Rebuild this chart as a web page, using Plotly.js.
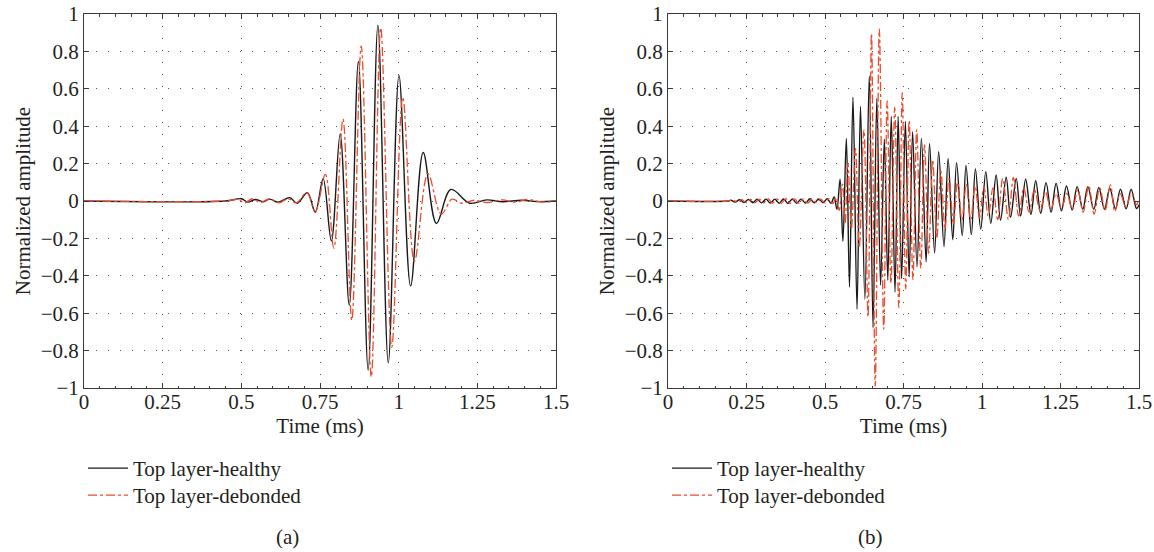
<!DOCTYPE html>
<html>
<head>
<meta charset="utf-8">
<script src="https://cdn.plot.ly/plotly-3.0.1.min.js"></script>
<style>html,body{margin:0;padding:0;background:#fff}#chart{width:1154px;height:552px}</style>
</head>
<body>
<div id="chart"></div>
<script>
// ---- Tick labels ----
const xTickVals = [0, 0.25, 0.5, 0.75, 1, 1.25, 1.5];
const xTickText = ['0', '0.25', '0.5', '0.75', '1', '1.25', '1.5'];
const yTickVals = [1, 0.8, 0.6, 0.4, 0.2, 0, -0.2, -0.4, -0.6, -0.8, -1];
const yTickText = ['1', '0.8', '0.6', '0.4', '0.2', '0', '\u22120.2', '\u22120.4', '\u22120.6', '\u22120.8', '\u22121'];

const seriesNames = ['Top layer-healthy', 'Top layer-debonded'];
const panelLabels = ['(a)', '(b)'];
const xTitle = 'Time (ms)';
const yTitle = 'Normalized amplitude';

// ---- Panel (a): peaks/troughs ----
const aHealthyTime = [0, 0.45, 0.5, 0.52, 0.545, 0.57, 0.59, 0.615, 0.635, 0.654, 0.678, 0.71, 0.735, 0.76, 0.786, 0.814, 0.843, 0.872, 0.903, 0.934, 0.967, 1.001, 1.038, 1.078, 1.12, 1.166, 1.226, 1.28, 1.33, 1.39, 1.44, 1.5];
const aHealthyAmp  = [0, 0, 0.012, -0.006, 0.008, -0.004, 0.01, -0.006, 0.006, 0.018, -0.012, 0.045, -0.06, 0.119, -0.214, 0.358, -0.557, 0.746, -0.904, 0.94, -0.865, 0.672, -0.454, 0.259, -0.12, 0.062, -0.012, 0.006, -0.004, 0.004, -0.003, 0];

const aDebondedTime = [0, 0.45, 0.49, 0.51, 0.535, 0.56, 0.59, 0.62, 0.648, 0.675, 0.708, 0.735, 0.767, 0.794, 0.823, 0.851, 0.881, 0.913, 0.943, 0.978, 1.013, 1.05, 1.093, 1.135, 1.17, 1.2, 1.24, 1.28, 1.33, 1.37, 1.41, 1.45, 1.5];
const aDebondedAmp  = [0, 0, 0.008, -0.01, 0.012, -0.008, 0.012, -0.01, 0.012, -0.01, 0.045, -0.055, 0.142, -0.252, 0.438, -0.638, 0.83, -0.94, 0.926, -0.782, 0.555, -0.323, 0.146, -0.07, 0.01, -0.012, 0.004, -0.008, 0.006, -0.006, 0.008, -0.005, 0];

// ---- Panel (b) ----
const bHealthyTime = [0, 0.19, 0.2, 0.214, 0.228, 0.242, 0.256, 0.27, 0.284, 0.298, 0.312, 0.326, 0.34, 0.354, 0.368, 0.382, 0.396, 0.41, 0.424, 0.438, 0.452, 0.466, 0.48, 0.494, 0.507, 0.519, 0.529, 0.538, 0.548, 0.557, 0.568, 0.578, 0.589, 0.602, 0.613, 0.627, 0.641, 0.653, 0.665, 0.677, 0.689, 0.7, 0.711, 0.723, 0.733, 0.744, 0.756, 0.768, 0.779, 0.793, 0.807, 0.822, 0.833, 0.849, 0.862, 0.879, 0.892, 0.907, 0.919, 0.937, 0.949, 0.966, 0.979, 0.996, 1.012, 1.028, 1.045, 1.059, 1.077, 1.091, 1.109, 1.123, 1.139, 1.156, 1.171, 1.187, 1.204, 1.22, 1.236, 1.253, 1.269, 1.287, 1.303, 1.321, 1.337, 1.356, 1.372, 1.39, 1.407, 1.425, 1.441, 1.459, 1.475, 1.492, 1.5];
const bHealthyAmp  = [0, 0, 0.004, -0.006, 0.007, -0.008, 0.008, -0.009, 0.009, -0.01, 0.01, -0.011, 0.01, -0.012, 0.011, -0.013, 0.011, -0.012, 0.01, -0.011, 0.012, -0.01, 0.011, -0.009, 0.012, -0.012, 0.022, -0.044, 0.116, -0.216, 0.335, -0.46, 0.555, -0.578, 0.506, -0.526, 0.669, -0.677, 0.548, -0.45, 0.33, -0.423, 0.452, -0.487, 0.452, -0.415, 0.425, -0.406, 0.371, -0.352, 0.335, -0.325, 0.308, -0.279, 0.263, -0.244, 0.227, -0.207, 0.205, -0.185, 0.19, -0.18, 0.172, -0.15, 0.157, -0.119, 0.139, -0.102, 0.127, -0.087, 0.121, -0.08, 0.116, -0.071, 0.109, -0.066, 0.098, -0.061, 0.095, -0.053, 0.08, -0.048, 0.077, -0.045, 0.077, -0.045, 0.073, -0.044, 0.068, -0.042, 0.063, -0.042, 0.063, -0.04, -0.02];

const bDebondedTime = [0, 0.19, 0.207, 0.221, 0.235, 0.249, 0.263, 0.277, 0.291, 0.305, 0.319, 0.333, 0.347, 0.361, 0.375, 0.389, 0.403, 0.417, 0.431, 0.445, 0.459, 0.473, 0.487, 0.5, 0.513, 0.525, 0.535, 0.545, 0.556, 0.564, 0.573, 0.584, 0.597, 0.609, 0.624, 0.637, 0.648, 0.66, 0.673, 0.687, 0.698, 0.71, 0.722, 0.735, 0.746, 0.757, 0.768, 0.78, 0.792, 0.805, 0.817, 0.83, 0.843, 0.856, 0.869, 0.882, 0.895, 0.909, 0.922, 0.936, 0.95, 0.964, 0.978, 0.992, 1.006, 1.02, 1.035, 1.05, 1.066, 1.084, 1.1, 1.117, 1.133, 1.15, 1.167, 1.185, 1.202, 1.219, 1.236, 1.253, 1.27, 1.288, 1.305, 1.322, 1.34, 1.357, 1.375, 1.392, 1.409, 1.423, 1.44, 1.458, 1.476, 1.492, 1.5];
const bDebondedAmp  = [0, 0, 0.005, -0.006, 0.007, -0.008, 0.008, -0.009, 0.01, -0.01, 0.011, -0.011, 0.011, -0.012, 0.012, -0.012, 0.011, -0.012, 0.011, -0.011, 0.011, -0.01, 0.01, -0.01, 0.012, -0.014, 0.02, -0.05, 0.09, -0.12, 0.2, -0.15, 0.28, -0.25, 0.38, -0.62, 0.895, -0.99, 0.92, -0.685, 0.535, -0.44, 0.5, -0.57, 0.58, -0.47, 0.43, -0.42, 0.38, -0.36, 0.3, -0.28, 0.22, -0.2, 0.16, -0.15, 0.12, -0.12, 0.1, -0.1, 0.09, -0.1, 0.08, -0.09, 0.08, -0.08, 0.07, -0.1, 0.12, -0.1, 0.126, -0.08, 0.07, -0.06, 0.06, -0.05, 0.05, -0.045, 0.04, -0.04, 0.04, -0.045, 0.06, -0.06, 0.08, -0.07, 0.07, -0.05, 0.086, -0.057, 0.04, -0.03, 0.04, -0.02, 0.01];

// ---- Styling ----
const SERIF = 'Liberation Serif, "Times New Roman", serif';
const FS = 21;
const TXT = '#231f20';
const AX = '#3a3a3a';
const healthyLine = {color: '#1a1a1a', width: 1.4, shape: 'spline', smoothing: 1};
const debondedLine = {color: '#ee4a2b', width: 1.3, dash: 'dashdot', shape: 'spline', smoothing: 1};

const traces = [
  {x: aHealthyTime, y: aHealthyAmp, type: 'scatter', mode: 'lines', name: seriesNames[0], line: healthyLine, xaxis: 'x', yaxis: 'y', legend: 'legend'},
  {x: aDebondedTime, y: aDebondedAmp, type: 'scatter', mode: 'lines', name: seriesNames[1], line: debondedLine, xaxis: 'x', yaxis: 'y', legend: 'legend3'},
  {x: bHealthyTime, y: bHealthyAmp, type: 'scatter', mode: 'lines', name: seriesNames[0], line: healthyLine, xaxis: 'x2', yaxis: 'y2', legend: 'legend2'},
  {x: bDebondedTime, y: bDebondedAmp, type: 'scatter', mode: 'lines', name: seriesNames[1], line: debondedLine, xaxis: 'x2', yaxis: 'y2', legend: 'legend4'}
];

const W = 1154, H = 552;
const yDom = [(H - 388) / H, (H - 14) / H];

function xAxis(d0, d1, anchor) {
  return {
    domain: [d0 / W, d1 / W], anchor: anchor, range: [0, 1.5], autorange: false,
    tickmode: 'array', tickvals: xTickVals, ticktext: xTickText,
    ticks: 'inside', ticklen: 5, tickwidth: 1, tickcolor: AX,
    showline: true, linecolor: AX, linewidth: 1, mirror: 'ticks',
    showgrid: true, gridcolor: '#555', gridwidth: 1, griddash: '1px,11px',
    zeroline: false, automargin: false, ticklabelstandoff: -5,
    minor: {dtick: 0.05, tick0: 0, ticks: 'inside', ticklen: 2.5, tickcolor: AX, showgrid: false},
    tickfont: {family: SERIF, size: FS, color: TXT},
    title: {text: xTitle, font: {family: SERIF, size: FS, color: TXT}, standoff: 5}
  };
}
function yAxis(anchor) {
  return {
    domain: yDom, anchor: anchor, range: [-1, 1], autorange: false,
    tickmode: 'array', tickvals: yTickVals, ticktext: yTickText,
    ticks: 'inside', ticklen: 5, tickwidth: 1, tickcolor: AX,
    showline: true, linecolor: AX, linewidth: 1, mirror: 'ticks',
    showgrid: true, gridcolor: '#555', gridwidth: 1, griddash: '1px,11px',
    zeroline: false, automargin: false,
    tickfont: {family: SERIF, size: FS, color: TXT},
    title: {text: yTitle, font: {family: SERIF, size: FS, color: TXT}, standoff: 4}
  };
}
function legendAt(px, topPx) {
  return {
    x: px / W, xanchor: 'left', y: (H - topPx) / H, yanchor: 'top',
    bgcolor: 'rgba(0,0,0,0)', borderwidth: 0,
    font: {family: SERIF, size: FS, color: TXT},
    tracegroupgap: 0, itemwidth: 40
  };
}

const layout = {
  width: W, height: H,
  margin: {l: 0, r: 0, t: 0, b: 0},
  paper_bgcolor: '#fff', plot_bgcolor: '#fff',
  showlegend: true,
  xaxis: xAxis(84, 556, 'y'),
  yaxis: yAxis('x'),
  xaxis2: xAxis(668, 1139, 'y2'),
  yaxis2: yAxis('x2'),
  legend: legendAt(83, 448),
  legend3: legendAt(83, 475),
  legend2: legendAt(667, 448),
  legend4: legendAt(667, 475),
  annotations: [
    {text: panelLabels[0], xref: 'paper', yref: 'paper', x: 287 / W, y: (H - 537) / H, xanchor: 'center', yanchor: 'middle', showarrow: false, font: {family: SERIF, size: FS, color: TXT}},
    {text: panelLabels[1], xref: 'paper', yref: 'paper', x: 870 / W, y: (H - 537) / H, xanchor: 'center', yanchor: 'middle', showarrow: false, font: {family: SERIF, size: FS, color: TXT}}
  ]
};

Plotly.newPlot('chart', traces, layout, {displayModeBar: false, staticPlot: true});
</script>
</body>
</html>
